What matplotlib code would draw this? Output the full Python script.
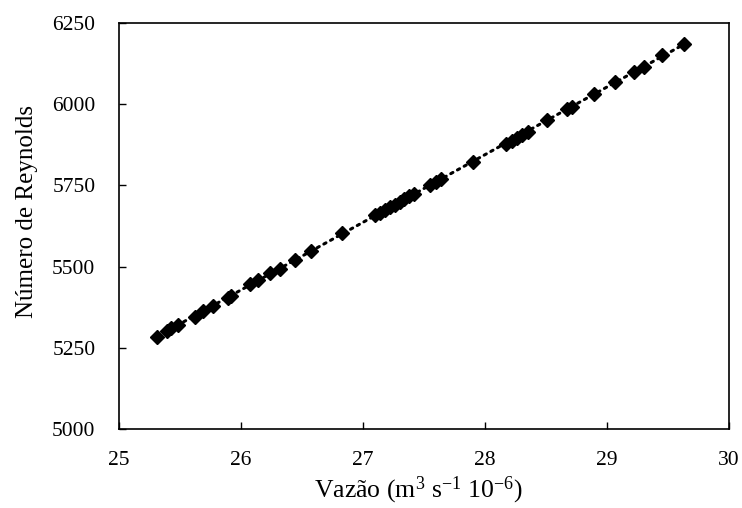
import numpy as np
import matplotlib.pyplot as plt

plt.rcParams['font.family'] = ['Liberation Serif', 'DejaVu Serif']
plt.rcParams['mathtext.fontset'] = 'custom'
plt.rcParams['mathtext.rm'] = 'Liberation Serif'
plt.rcParams['mathtext.it'] = 'Liberation Serif:italic'

# Vazão (m3 s-1 10-6) and Número de Reynolds
vazao = [25.31, 25.39, 25.43, 25.48, 25.62, 25.69, 25.77, 25.89, 25.92,
         26.07, 26.14, 26.24, 26.32, 26.44, 26.57, 26.83,
         27.10, 27.14, 27.18, 27.22, 27.26, 27.30, 27.34, 27.38, 27.42,
         27.55, 27.60, 27.64, 27.90,
         28.17, 28.22, 28.26, 28.30, 28.35, 28.51, 28.67, 28.71,
         28.89, 29.07, 29.22, 29.30, 29.45, 29.63]
reynolds = [5284, 5301, 5311, 5320, 5345, 5363, 5378, 5404, 5411,
            5446, 5460, 5479, 5494, 5520, 5547, 5602,
            5658, 5666, 5674, 5683, 5691, 5700, 5708, 5716, 5725,
            5751, 5760, 5770, 5822,
            5878, 5888, 5897, 5905, 5915, 5952, 5984, 5991,
            6030, 6068, 6099, 6115, 6150, 6186]

x_ticks = [25, 26, 27, 28, 29, 30]
y_ticks = [5000, 5250, 5500, 5750, 6000, 6250]

fig = plt.figure(figsize=(7.42, 5.08), dpi=100)
ax = fig.add_axes([0.1604, 0.1555, 0.822, 0.7992])

# linear trend line through the data
coef = np.polyfit(vazao, reynolds, 1)
xl = np.array([min(vazao), max(vazao)])
ax.plot(xl, np.polyval(coef, xl), color='black', linestyle=(0, (0.8, 1.7)),
        linewidth=2.2, dash_capstyle='round', zorder=2)

ax.plot(vazao, reynolds, linestyle='none', marker='D', markersize=7.2,
        color='black', zorder=3)

ax.set_xlim(25, 30)
ax.set_ylim(5000, 6250)
ax.set_xticks(x_ticks)
ax.set_yticks(y_ticks)
ax.tick_params(direction='in', length=5, width=1, labelsize=15.5)
ax.tick_params(axis='x', pad=16)
ax.tick_params(axis='y', pad=17)
for s in ax.spines.values():
    s.set_linewidth(1.2)

ax.set_xlabel(r'Vazão (m$^{\mathregular{3}}$ s$^{\mathregular{-1}}$ 10$^{\mathregular{-6}}$)',
              fontsize=18.5)
ax.set_ylabel('Número de Reynolds', fontsize=18)
ax.xaxis.set_label_coords(0.49, -0.113)
ax.yaxis.set_label_coords(-0.133, 0.536)

fig.savefig('out.png', dpi=100)
